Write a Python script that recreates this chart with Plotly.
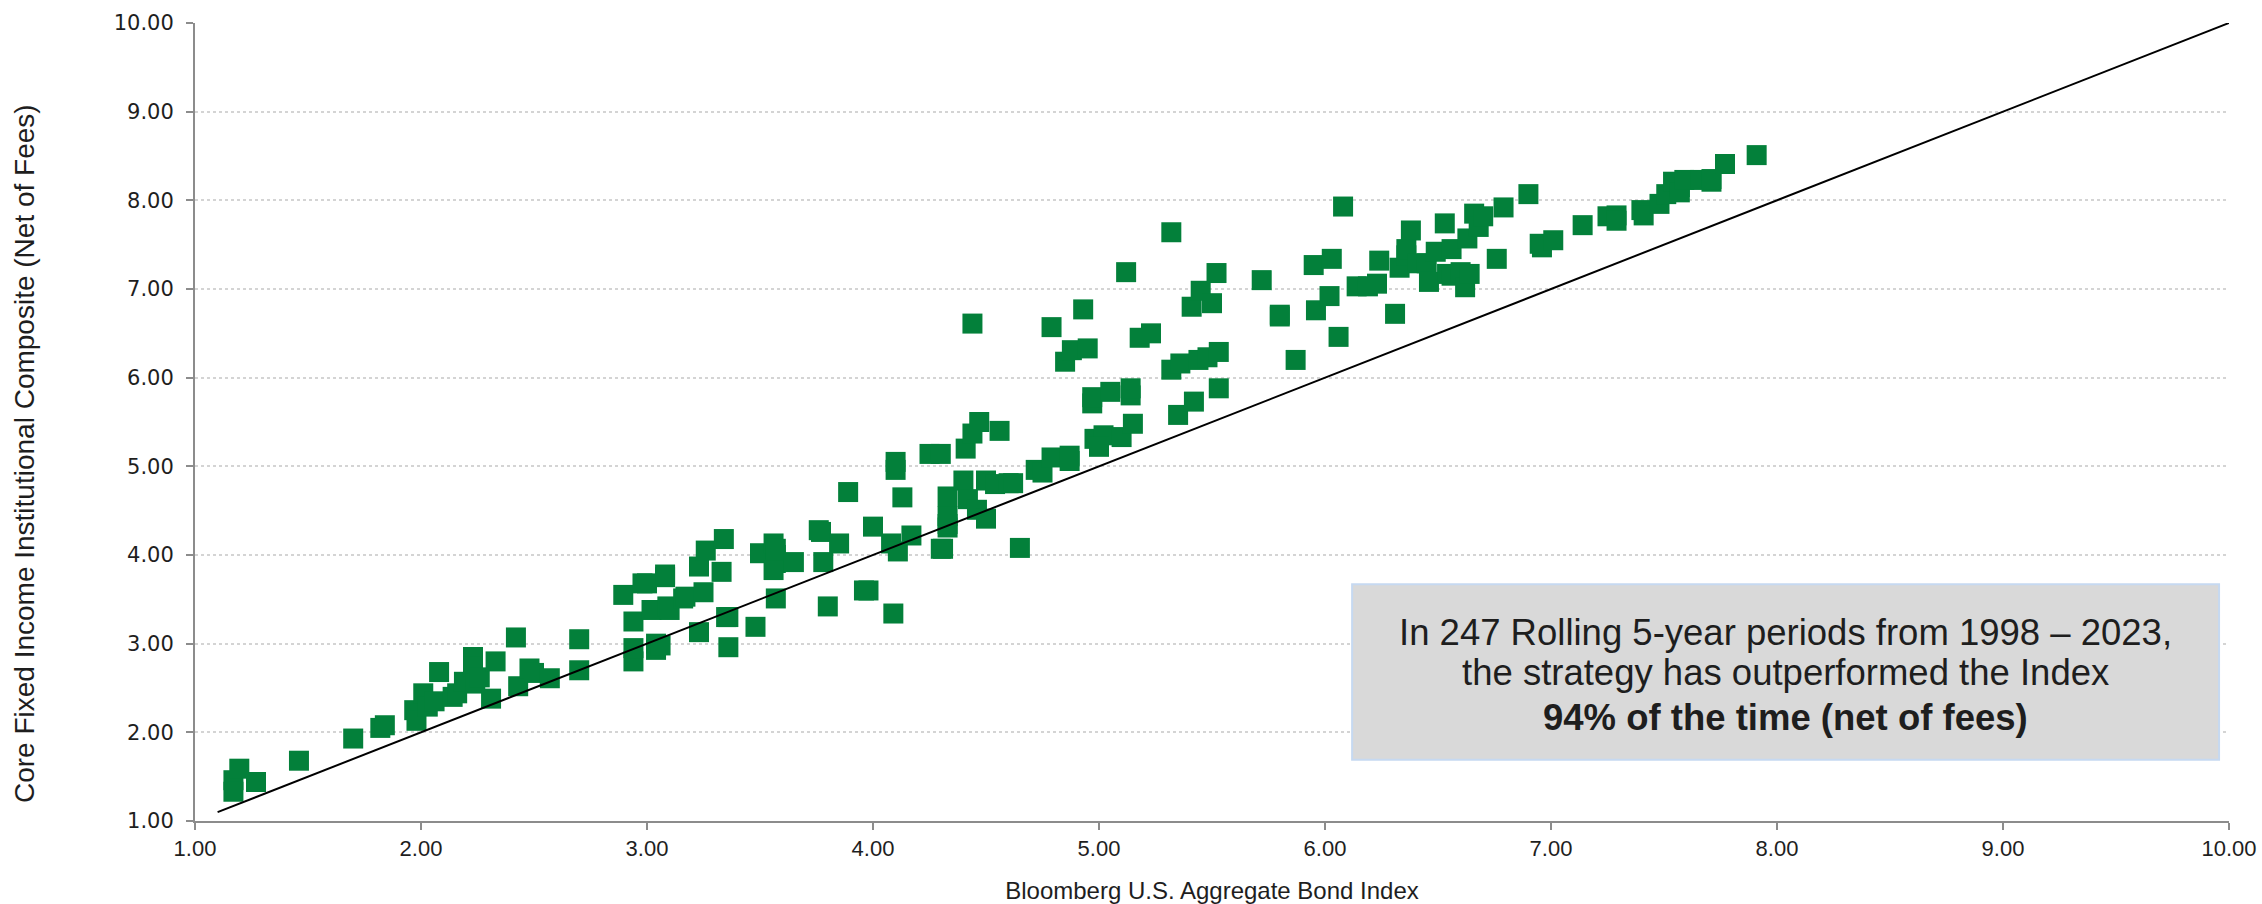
import plotly.graph_objects as go

# Bloomberg U.S. Aggregate Bond Index (x) vs Core Fixed Income Institutional Composite (y), rolling 5-yr returns
index_returns = [
    1.17, 1.196, 1.17, 1.27, 1.46, 1.70, 1.82, 1.84, 1.97, 1.98, 2.01, 2.03, 2.08, 2.06, 2.14, 2.16,
    2.19, 2.23, 2.23, 2.24, 2.26, 2.31, 2.33, 2.42, 2.43, 2.48, 2.50, 2.57, 2.70, 2.70,
    2.895, 2.94, 2.94, 2.94, 2.98, 3.00, 3.02, 3.04, 3.04, 3.08, 3.08, 3.06, 3.09, 3.10, 3.16, 3.17,
    3.23, 3.23, 3.26, 3.25, 3.34, 3.33, 3.35, 3.36, 3.36, 3.48, 3.50, 3.56, 3.57, 3.57, 3.57, 3.56,
    3.57, 3.65, 3.76, 3.77, 3.78, 3.80, 3.85, 3.89, 3.96, 3.98, 4.00, 4.08, 4.09, 4.11, 4.10, 4.10,
    4.13, 4.17, 4.25, 4.30, 4.30, 4.31, 4.33, 4.33,
    4.65, 4.33, 4.33, 4.40, 4.42, 4.41, 4.44, 4.47, 4.56, 4.44, 4.46, 4.50, 4.54, 4.60, 4.62, 4.50,
    4.72, 4.75, 4.79, 4.87, 4.87, 4.79, 4.93, 4.85, 4.88, 4.95, 4.97, 4.97, 4.98, 5.02, 5.00, 5.05,
    5.10, 5.14, 5.14, 5.15, 5.12, 5.18, 5.23, 5.32, 5.32, 5.35, 5.36, 5.42, 5.44, 5.48, 5.53, 5.53,
    5.41, 5.45, 5.50, 5.52, 5.72, 5.80, 5.80, 5.87,
    5.95, 5.96, 6.02, 6.03, 6.06, 6.08, 6.14, 6.19, 6.23, 6.24, 6.31, 6.33, 6.36, 6.38, 6.36, 6.41,
    6.45, 6.46, 6.49, 6.53, 6.54, 6.56, 6.56, 6.60, 6.62, 6.63, 6.64, 6.66, 6.68, 6.70, 6.76, 6.79,
    6.90, 6.95, 6.96, 7.01, 7.14, 7.25, 7.29, 7.29, 7.40, 7.41, 7.48, 7.51, 7.54, 7.57, 7.57, 7.59,
    7.66, 7.71, 7.71, 7.77, 7.91,
]
composite_returns = [
    1.46, 1.59, 1.33, 1.44, 1.68, 1.93, 2.05, 2.08, 2.25, 2.13, 2.44, 2.29, 2.68, 2.35, 2.40, 2.44,
    2.57, 2.85, 2.74, 2.55, 2.62, 2.38, 2.80, 3.07, 2.52, 2.72, 2.67, 2.61, 3.05, 2.70,
    3.55, 3.25, 2.80, 2.95, 3.68, 3.68, 3.38, 3.00, 2.93, 3.75, 3.78, 2.98, 3.42, 3.38, 3.51, 3.53,
    3.13, 3.87, 4.05, 3.58, 4.18, 3.81, 3.30, 3.30, 2.96, 3.19, 4.02, 4.13, 4.07, 4.00, 3.91, 3.83,
    3.51, 3.92, 4.28, 4.26, 3.92, 3.42, 4.13, 4.71, 3.60, 3.60, 4.32, 4.13, 3.34, 4.04, 5.05, 4.96,
    4.65, 4.22, 5.14, 5.14, 4.07, 4.07, 4.31, 4.44,
    4.08, 4.35, 4.66, 4.84, 4.63, 5.20, 5.37, 5.50, 5.40, 6.61, 4.51, 4.84, 4.80, 4.81, 4.81, 4.41,
    4.96, 4.93, 5.10, 5.12, 5.06, 6.57, 6.77, 6.18, 6.31, 6.33, 5.71, 5.78, 5.31, 5.35, 5.22, 5.84,
    5.33, 5.80, 5.88, 5.48, 7.19, 6.45, 6.50, 7.64, 6.09, 5.58, 6.16, 5.73, 6.20, 6.23, 6.29, 5.88,
    6.80, 6.98, 6.84, 7.18, 7.10, 6.69, 6.71, 6.20,
    7.27, 6.76, 6.92, 7.34, 6.46, 7.93, 7.03, 7.03, 7.06, 7.32, 6.72, 7.24, 7.38, 7.66, 7.45, 7.29,
    7.29, 7.08, 7.42, 7.74, 7.17, 7.45, 7.15, 7.19, 7.02, 7.57, 7.17, 7.85, 7.70, 7.82, 7.34, 7.92,
    8.07, 7.51, 7.47, 7.55, 7.72, 7.82, 7.83, 7.77, 7.89, 7.83, 7.96, 8.07, 8.21, 8.15, 8.09, 8.23,
    8.23, 8.21, 8.24, 8.41, 8.51,
]
parity_x = [1.1, 10.0]
parity_y = [1.1, 10.0]
tick_vals = [1, 2, 3, 4, 5, 6, 7, 8, 9, 10]
tick_text = ["1.00", "2.00", "3.00", "4.00", "5.00", "6.00", "7.00", "8.00", "9.00", "10.00"]

x_title = "Bloomberg U.S. Aggregate Bond Index"
y_title = "Core Fixed Income Institutional Composite (Net of Fees)"
box_lines = [
    "In 247 Rolling 5-year periods from 1998 \u2013 2023,",
    "the strategy has outperformed the Index",
    "<b>94% of the time (net of fees)</b>",
]
box_line_y = [3.13, 2.68, 2.17]
box_x = [6.12, 9.956]
box_y = [1.69, 3.67]

FONT = "Liberation Sans, Arial, sans-serif"
GREEN = "#03803A"

fig = go.Figure()
fig.add_trace(go.Scatter(
    x=index_returns, y=composite_returns, mode="markers",
    marker=dict(symbol="square", size=20, color=GREEN, line=dict(width=0)),
    showlegend=False, hoverinfo="x+y",
))
fig.add_trace(go.Scatter(
    x=parity_x, y=parity_y, mode="lines",
    line=dict(color="black", width=2), showlegend=False, hoverinfo="skip",
))

fig.add_shape(type="rect", xref="x", yref="y",
              x0=box_x[0], x1=box_x[1], y0=box_y[0], y1=box_y[1],
              fillcolor="#d9d9d9", line=dict(color="#c6d9f1", width=2), layer="above")
for txt, yy in zip(box_lines, box_line_y):
    fig.add_annotation(x=(box_x[0] + box_x[1]) / 2, y=yy, xref="x", yref="y",
                       text=txt, showarrow=False,
                       font=dict(family=FONT, size=36.5, color="#1e1e1e"), align="center")

# y-axis title placed as a rotated annotation (sits slightly below the plot's vertical centre)
fig.add_annotation(xref="paper", yref="paper", x=-0.0835, y=0.46,
                   xanchor="center", yanchor="middle", textangle=-90,
                   text=y_title, showarrow=False,
                   font=dict(family=FONT, size=28, color="#1e1e1e"))

fig.update_layout(
    width=2262, height=904,
    margin=dict(l=195, r=33, t=23, b=83),
    paper_bgcolor="white", plot_bgcolor="white",
    font=dict(family=FONT, color="#222222"),
)
fig.update_xaxes(
    range=[1, 10], tickvals=tick_vals, ticktext=tick_text, automargin=False,
    showgrid=False, zeroline=False,
    showline=True, linecolor="#8c8c8c", linewidth=2,
    ticks="outside", ticklen=7, tickcolor="#8c8c8c", tickwidth=2,
    tickfont=dict(family=FONT, size=22, color="#1e1e1e"), ticklabelstandoff=0,
    title=dict(text=x_title, font=dict(family=FONT, size=24, color="#1e1e1e"), standoff=30),
)
fig.update_yaxes(
    range=[1, 10], tickvals=tick_vals, ticktext=tick_text, automargin=False,
    showgrid=True, gridcolor="#d4d4d4", griddash="dot", gridwidth=2,
    zeroline=False,
    showline=True, linecolor="#8c8c8c", linewidth=2,
    ticks="outside", ticklen=7, tickcolor="#8c8c8c", tickwidth=2,
    tickfont=dict(family="DejaVu Sans, Verdana, sans-serif", size=21, color="#1e1e1e"),
    ticklabelstandoff=8,
)

fig.write_html("out.html", config={"displayModeBar": False},
               post_script="document.body.style.margin='0';")
